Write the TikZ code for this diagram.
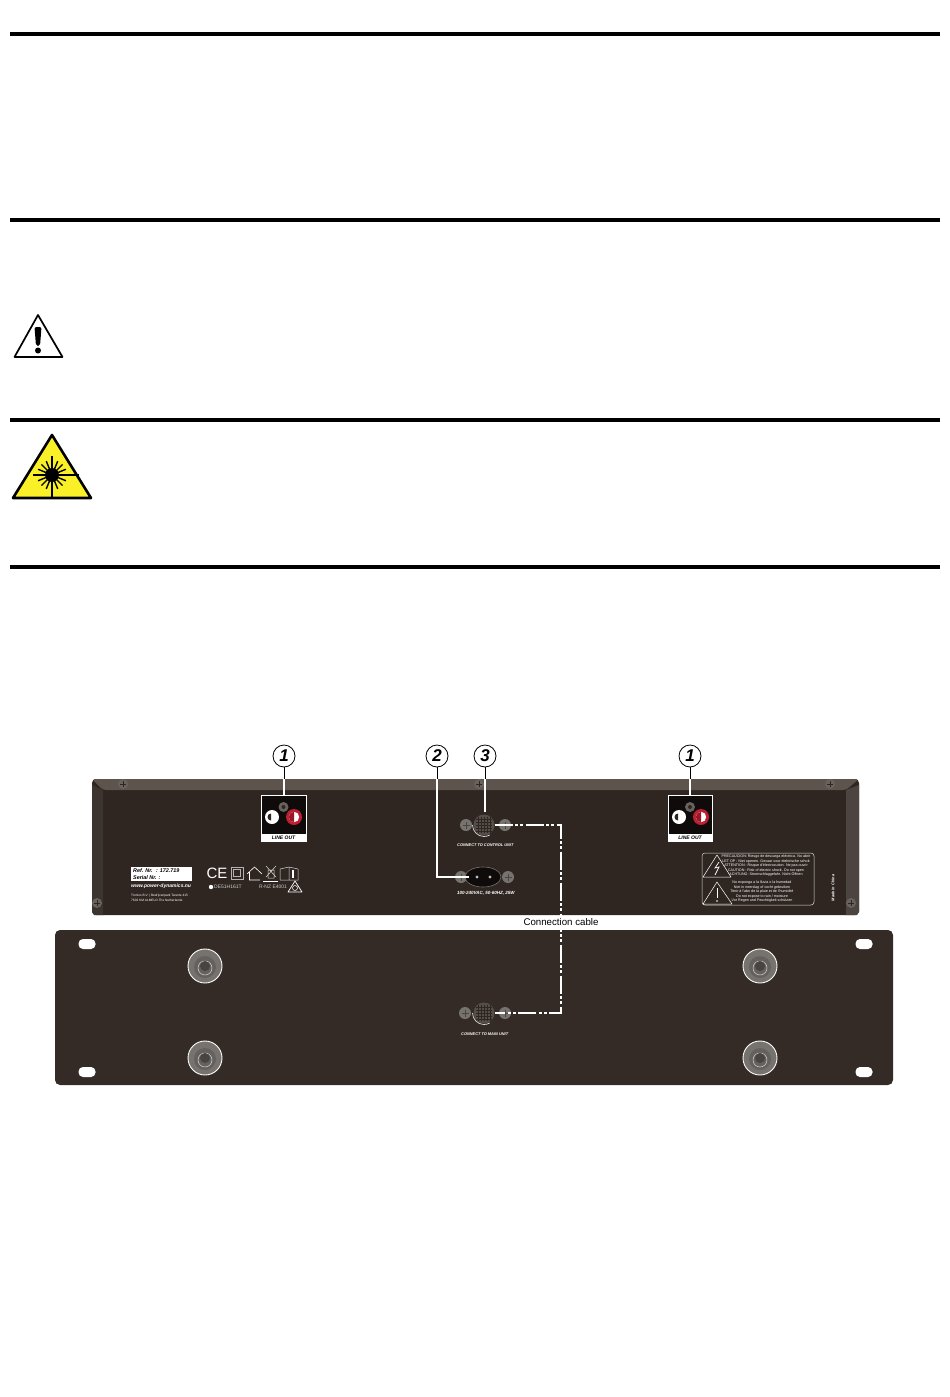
\documentclass[tikz,border=0pt]{standalone}
\usepackage{fontspec}
\setmainfont{Liberation Sans}
\usetikzlibrary{positioning}
\definecolor{panelColor}{RGB}{47,38,34}
\definecolor{frontColor}{RGB}{53,43,38}
\definecolor{bevelColor}{RGB}{92,84,77}
\definecolor{sideColor}{RGB}{60,52,47}
\definecolor{sideLight}{RGB}{76,68,62}
\definecolor{screwColor}{RGB}{104,98,92}
\definecolor{padColor}{RGB}{118,114,110}
\definecolor{laserColor}{RGB}{250,240,40}
\definecolor{jackRed}{RGB}{190,30,50}
\tikzstyle{pagePx} = [x = 1pt, y = -1pt]
\tikzstyle{ruleLine} = [color=black, line width=4pt]
\tikzstyle{callNumber} = [circle, draw=black, fill=white, line width=.8pt, minimum size=22pt, inner sep=0pt, font=\bfseries\itshape\fontsize{17}{17}\selectfont]
\tikzstyle{leaderLine} = [color=white, line width=1.1pt]
\tikzstyle{leaderDark} = [color=black, line width=1pt]
\tikzstyle{cableLine} = [color=white, line width=2.7pt, dash pattern=on 18pt off 2.5pt on 3pt off 2pt on 3pt off 2.5pt]
\tikzstyle{plugStyle} = [circle, fill=screwColor!80!black, minimum size=21pt, inner sep=0pt]
\tikzstyle{panelText} = [text=white, inner sep=0pt, font=\bfseries\itshape\fontsize{3.9}{4.6}\selectfont]
\tikzstyle{smallText} = [text=white, inner sep=0pt, font=\fontsize{3.6}{4.5}\selectfont, align=center]
\tikzstyle{labelText} = [text=black, inner sep=0pt, font=\bfseries\itshape\fontsize{5.4}{6.2}\selectfont, align=left]
\newcommand{\screw}[2]{
  \fill [screwColor] (#1,#2) circle [radius=5];
  \draw [panelColor, line width=.6pt] (#1-3,#2) -- +(6,0) (#1,#2-3) -- +(0,6);
}
\newcommand{\jackScrew}[2]{
  \fill [padColor] (#1,#2) circle [radius=6];
  \draw [screwColor!70!black, line width=.5pt] (#1-3.5,#2) -- +(7,0) (#1,#2-3.5) -- +(0,7);
}
\newcommand{\footPad}[2]{
  \fill [padColor] (#1,#2) circle [radius=17];
  \fill [padColor!85!black] (#1,#2+1) circle [radius=11];
  \draw [white!85!black, line width=.5pt] (#1,#2+2) circle [radius=7];
  \fill [padColor!60!black] (#1,#2) circle [radius=5];
  \draw [white, line width=.9pt] (#1,#2) circle [radius=17];
}
\newcommand{\mountHole}[2]{
  \fill [white, rounded corners=4.5pt] (#1-8.5,#2-5) rectangle +(17,10);
}
\newcommand{\lineOut}[2]{
  \fill [black!70!panelColor] (#1,795) rectangle +(#2,39);
  \draw [white, line width=.5pt] (#1,795) rectangle +(#2,46);
  \fill [white] (#1,834) rectangle +(#2,7);
  \node [labelText, font=\bfseries\itshape\fontsize{5}{5}\selectfont] (lineOut#1) at (#1+#2/2,837.5) {LINE OUT};
  \fill [screwColor] (#1+#2/2,807) circle [radius=5];
  \fill [panelColor] (#1+#2/2,807) circle [radius=2];
  \fill [white] (#1+11,817) circle [radius=7];
  \fill [panelColor] (#1+10,820.5) arc (90:270:3.5) -- cycle;
  \fill [jackRed] (#1+33,817) circle [radius=8];
  \fill [white] (#1+33,817) circle [radius=5.2];
  \fill [jackRed!80!black] (#1+33,822.2) arc (90:270:5.2) -- cycle;
}
\newcommand{\plugGrid}[2]{
  \foreach \gridStep in {-6,-3,...,6} {
    \draw [panelColor, line width=.3pt] (#1+\gridStep,#2-8) -- +(0,16);
    \draw [panelColor, line width=.3pt] (#1-8,#2+\gridStep) -- +(16,0);
  }
  \draw [white!85!black, line width=.7pt] (#1-11.5,#2) arc (180:60:11.5);
}
\begin{document}
\begin{tikzpicture}[pagePx]
  \useasboundingbox (0,0) rectangle (950,1397);
  % rules
  \foreach \ruleY in {34,220,420,567} {
    \draw [ruleLine] (10,\ruleY) -- (940,\ruleY);
  }
  % warning signs
  \draw [black, line width=1.7pt, line join=round] (38,315) -- (62.5,357) -- (14.5,357) -- cycle;
  \fill [black, rounded corners=2pt] (34.5,327) -- (41.5,327) -- (40,346) -- (36,346) -- cycle;
  \fill [black] (38,350.5) circle [radius=3];
  \filldraw [fill=laserColor, draw=black, line width=2.6pt, line join=round] (52,435) -- (91,498) -- (13,498) -- cycle;
  \foreach \angle in {0,22.5,...,337.5} {
    \draw [black, line width=1.4pt] (52,475) -- ++(\angle:15);
  }
  \draw [black, line width=1.4pt] (33,475) -- (79,475) (52,456) -- (52,497);
  \fill [black] (52,475) circle [radius=7];
  % back panel
  \fill [panelColor, rounded corners=4pt] (92,779) rectangle (859,915);
  \fill [bevelColor, rounded corners=3pt] (92,779) -- (859,779) -- (846,790) -- (103,790) -- cycle;
  \fill [sideColor] (92,785) -- (103,790) -- (103,915) -- (94,915) -- (92,912) -- cycle;
  \fill [sideLight] (859,785) -- (846,790) -- (846,915) -- (857,915) -- (859,912) -- cycle;
  \screw{123}{784}
  \screw{479}{784}
  \screw{830}{784}
  \screw{97}{903}
  \screw{851}{903}
  \lineOut{261}{45}
  \lineOut{668}{44}
  % control connector
  \jackScrew{466}{825}
  \jackScrew{505}{825}
  \node [plugStyle] (plugControl) at (484,825) {};
  \plugGrid{484}{825}
  \node [panelText, right=0pt] (textControl) at (457,845) {CONNECT TO CONTROL UNIT};
  % power inlet
  \jackScrew{461}{877}
  \jackScrew{508}{877}
  \fill [black!70!panelColor] (483,877) ellipse [x radius=18, y radius=10];
  \draw [padColor, line width=.6pt] (483,877) ellipse [x radius=18, y radius=10];
  \fill [white!75!black] (477,877) circle [radius=1.6] (490,877) circle [radius=1.6];
  \coordinate (powerInlet) at (469,877);
  \node [panelText, font=\bfseries\itshape\fontsize{4.5}{5}\selectfont, right=0pt] (textPower) at (457,893) {100-240VAC, 50-60HZ, 25W};
  % type label
  \fill [white] (131,867) rectangle (192,881);
  \node [labelText, right=2pt] (typeLabel) at (131,874) {Ref. Nr. \ : 172.719\\Serial Nr. :};
  \node [panelText, font=\bfseries\itshape\fontsize{5}{6}\selectfont, right=0pt] (webText) at (131,886) {www.power-dynamics.nu};
  \node [smallText, font=\fontsize{3.2}{4.4}\selectfont, align=left, right=0pt] (addressText) at (131,898) {Tronios B.V. | Bedrijvenpark Twente 415\\7602 KM ALMELO The Netherlands};
  % approval marks
  \node [text=white, inner sep=0pt, font=\fontsize{15}{15}\selectfont] (ceMark) at (217,873) {CE};
  \draw [white!70!black, line width=.5pt] (231,867) rectangle (243,879) (233.5,869.5) rectangle (240.5,876.5);
  \draw [white, line width=.6pt] (247,874) -- (254.5,867) -- (262,874) (249.5,872) -- (249.5,880) -- (260,880);
  \draw [white!85!black, line width=.5pt] (266,866) -- (276,877) (276,866) -- (266,877) (268,870) rectangle (274,878);
  \fill [white] (263,880.5) rectangle (278,882);
  \draw [white!85!black, line width=.5pt] (280,869) -- (289,867) -- (298,869) -- (298,880) -- (280,880) -- cycle (289,867) -- (289,880);
  \fill [white] (292,870) rectangle (294,878);
  \fill [white] (211,887) circle [radius=2.2];
  \node [smallText, text=white!80!black, font=\fontsize{5}{5}\selectfont, right=0pt] (decText) at (214,887) {DE51H161T};
  \node [smallText, text=white!80!black, font=\fontsize{5}{5}\selectfont, right=0pt] (nzText) at (259,887) {R-NZ E4001};
  \draw [white, line width=.7pt, line join=round] (295,881) -- (302,892) -- (288,892) -- cycle;
  \draw [white, line width=.5pt] (295,888) circle [radius=2.5];
  % safety label
  \draw [white!85!black, line width=.5pt, rounded corners=3pt] (702,853) rectangle (814,905);
  \draw [white, line width=.5pt, line join=round] (717,855) -- (731,877) -- (703,877) -- cycle;
  \draw [white, line width=.7pt] (719,862) -- (715,868) -- (719,867) -- (715,875);
  \draw [white, line width=.5pt, line join=round] (717,882) -- (732,904) -- (703,904) -- cycle;
  \draw [white, line width=.9pt] (717,888) -- (717,898);
  \fill [white] (717,901) circle [radius=.8];
  \node [smallText, font=\fontsize{3.65}{4.5}\selectfont] (textCaution) at (766,866) {PRECAUCION: Riesgo de descarga eléctrica. No abrir\\LET OP : Niet openen. Gevaar voor elektrische schok\\ATTENTION : Risque d'électrocution. Ne pas ouvrir\\CAUTION : Risk of electric shock. Do not open\\ACHTUNG: Stromschlaggefahr. Nicht Öffnen};
  \node [smallText, font=\fontsize{3.65}{4.5}\selectfont] (textRain) at (762,892) {No exponga a la lluvia o la humedad\\Niet in neerslag of vocht gebruiken\\Tenir à l'abri de la pluie et de l'humidité\\Do not expose to rain / moisture\\Vor Regen und Feuchtigkeit schützen};
  \node [panelText, rotate=90] (textChina) at (833,888) {Made in China};
  % front panel
  \fill [frontColor, rounded corners=5pt] (55,930) rectangle (893,1085);
  \mountHole{87}{944}
  \mountHole{87}{1072}
  \mountHole{864}{944}
  \mountHole{864}{1072}
  \footPad{205}{966}
  \footPad{205}{1058}
  \footPad{760}{966}
  \footPad{760}{1058}
  \jackScrew{465}{1013}
  \jackScrew{505}{1013}
  \node [plugStyle] (plugMain) at (484,1013) {};
  \plugGrid{484}{1013}
  \node [panelText, right=0pt] (textMain) at (461,1034) {CONNECT TO MAIN UNIT};
  % callouts
  \node [callNumber] (callOneLeft) at (284,756) {1};
  \node [callNumber] (callTwo) at (437,756) {2};
  \node [callNumber] (callThree) at (485,756) {3};
  \node [callNumber] (callOneRight) at (690,756) {1};
  \coordinate (jackLeft) at (284,795);
  \coordinate (jackRight) at (690,795);
  \coordinate (plugTop) at (485,812);
  \coordinate (bendTwo) at (437,877);
  \foreach \call/\target in {callOneLeft/jackLeft, callOneRight/jackRight, callThree/plugTop} {
    \draw [leaderDark] (\call) -- (\call |- 0,779);
    \draw [leaderLine] (\call |- 0,779) -- (\target);
  }
  \draw [leaderDark] (callTwo) -- (callTwo |- 0,779);
  \draw [leaderLine] (callTwo |- 0,779) -- (bendTwo) -- (powerInlet);
  % cable
  \coordinate (cableTop) at (561,825);
  \coordinate (cableBottom) at (561,1013);
  \draw [cableLine] (plugControl.east) -- (cableTop) -- (cableBottom) -- (plugMain.east);
  \node [inner sep=0pt, font=\fontsize{9.7}{10}\selectfont, fill=white, inner ysep=1pt] (cableText) at (561,922) {Connection cable};
\end{tikzpicture}
\end{document}
